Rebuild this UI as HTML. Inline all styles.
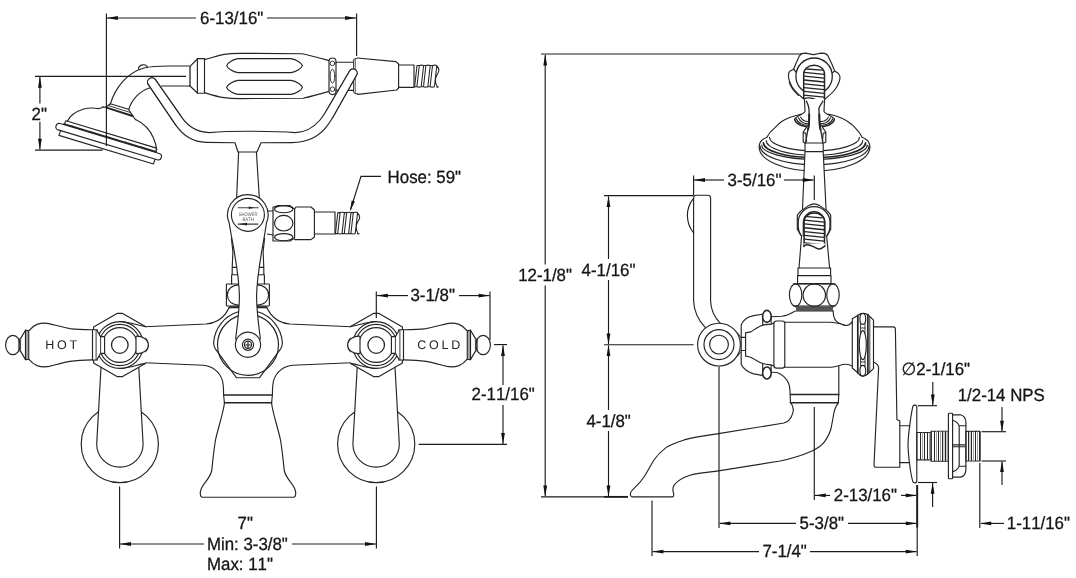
<!DOCTYPE html>
<html lang="en">
<head>
<meta charset="utf-8">
<title>Faucet dimension drawing</title>
<style>
html,body{margin:0;padding:0;background:#fff;}
body{width:1076px;height:578px;overflow:hidden;}
svg{display:block;position:absolute;left:0;top:0;will-change:transform;opacity:0.999;}
.o path,.o line,.o circle,.o ellipse,.o rect,.o polyline,.o polygon{fill:none;stroke:#242424;stroke-width:1.15;stroke-linecap:round;stroke-linejoin:round;}
.o .w{fill:#fff;}
.o .t{stroke-width:1.9;}
.o .h{stroke-width:0.9;}
.dl{stroke:#1c1c1c;stroke-width:1.15;fill:none;}
.ah{fill:#111;stroke:none;}
text{text-rendering:geometricPrecision;font-family:"Liberation Sans","DejaVu Sans",sans-serif;font-size:17.7px;fill:#151515;font-kerning:none;stroke:#151515;stroke-width:0.3px;}
.lbl{font-size:12.5px;letter-spacing:2.75px;fill:#222;stroke:none;}
.tiny{font-size:5px;fill:#5a5a5a;letter-spacing:0;stroke:none;}
</style>
</head>
<body>
<svg width="1076" height="578" viewBox="0 0 1076 578">
<rect x="0" y="0" width="1076" height="578" fill="#fff"/>
<g class="o">
<g transform="translate(59.2,126.7) rotate(16.8)"><path d="M4,-3.3 L4.8,-7.6 L99.3,-7.6 L100,-3.3"/><line class="t" x1="4" y1="-3.9" x2="100" y2="-3.9" stroke-dasharray="2.6 0.7"/><path d="M2.6,3.3 L2.2,8.4 L101,8.4 L101.2,3.3"/><rect class="w" x="-3.3" y="-3.3" width="110" height="6.6" rx="3.3"/></g>
<path d="M67.5,120.9 C70,116 76,111.5 83,109.3 C89,107.5 95,108 98,108.6 L101.2,108 L102.5,106.9 L105.8,107.3"/>
<path d="M135.6,119.6 C143,123 150,130 153.5,138 C155.5,143 156.5,147 156.8,149.5"/>
<path d="M105.8,107.3 L110.3,103.8 L128.5,109.3 L133,116.4 L135,119 L135.6,119.6"/>
<path class="t" d="M106.5,107.6 L132.6,116"/>
<path class="h" d="M108.4,105.6 L130.6,112.6"/>
<path d="M110.4,103.9 C115,89 126,73 144,68 C152,66 160,66 168,66 L189,66"/>
<path d="M128.9,109 C132,99 140,91 149.5,88"/>
<path d="M161.5,86 L190,86"/>
<path d="M138.4,69 C139,64 146,63.4 147.6,67.4"/>
<path class="w" d="M148.4,84.6 L176,125.4 C182,134 192,142 206,142.4 L235,142.7 L238,152 L257,152 L261,142.7 L292,142.6 C306,142.4 318,137.4 326,127.4 C328.6,124 331,120.6 333,117 L356.6,75 A4,4 0 0 0 349.6,71 L325.6,112 C324,114.6 322,117.6 320,120 C314,127 306,132.4 295.4,132.6 C280,131.4 265,131.2 248,131.2 C232,131.2 220,131.6 209.3,132.6 C196,132 187,125 181.6,117.1 L155.4,79.6 A4,4 0 0 0 148.4,84.6 Z"/>
<path d="M238.6,152 L236.6,199"/>
<path d="M256.4,152 L259.4,199"/>
<path d="M190,66.4 L197.4,59 M190,86 L197.4,93"/>
<path class="t" d="M190,66.4 L190,86" style="stroke-width:1.3"/>
<rect x="197.4" y="58.6" width="7.1" height="34.6"/>
<path d="M204.5,59.6 C212,57.6 219,55.4 224,54.4 C230,53.4 236,53.3 240,53.3 L302,53.8 C311,55.6 321,58.4 329,60.6"/>
<path d="M204.5,92.6 C212,95 219,97 224,97.6 C230,98.5 236,98.6 240,98.6 L303,98.2 C312,96.4 321,93.8 329,91.4"/>
<path d="M238,58.6 C232.6,59.4 227.4,63 226.6,65.6 C227.4,68.2 232.6,71.8 238,72.6 L291,72.6 C296.4,71.8 301.6,68.2 302.4,65.6 C301.6,63 296.4,59.4 291,58.6 Z"/>
<path d="M238,80.4 C232.6,81.2 227.4,84.8 226.6,87.4 C227.4,90 232.6,93.6 238,94.4 L291,94.4 C296.4,93.6 301.6,90 302.4,87.4 C301.6,84.8 296.4,81.2 291,80.4 Z"/>
<rect class="w" x="329" y="58" width="7" height="36.6" rx="3.5"/>
<ellipse class="h" cx="332.5" cy="76.2" rx="2.3" ry="7"/>
<circle class="h" cx="332.5" cy="63.4" r="2.3"/><circle class="h" cx="332.5" cy="89.2" r="2.3"/>
<path d="M336,62.2 L353,62.2 M336,90.4 L353,90.4"/>
<path class="h" style="stroke-width:0.85" d="M353.5,60 L354.6,58.8 L356.9,58.4 M353.5,60 L353.5,92 L354.8,93.6 L356.9,94 M355.2,58.8 L355.2,93.6"/>
<path d="M357.2,58 L396,61.6 L398.6,64 L398.6,88 L396.6,90 L358,94.4 L357.2,93.6"/>
<path d="M398.6,65 L414,65 L414,87.4 L398.6,87.4"/>
<path style="stroke-width:1.05" d="M414.6,86.8 L417,65.5 M416.9,86.8 L419.3,65.5 M417,65.5 L419.3,65.5 M414.6,86.8 L416.9,86.8 M419.3,65.5 Q421.45,64.8 423.6,65.5 M416.9,86.8 Q419.05,87.5 421.2,86.8 M421.2,86.8 L423.6,65.5 M423.5,86.8 L425.9,65.5 M423.6,65.5 L425.9,65.5 M421.2,86.8 L423.5,86.8 M425.9,65.5 Q428.05,64.8 430.2,65.5 M423.5,86.8 Q425.65,87.5 427.8,86.8 M427.8,86.8 L430.2,65.5 M430.1,86.8 L432.5,65.5 M430.2,65.5 L432.5,65.5 M427.8,86.8 L430.1,86.8 M432.5,65.5 Q434.65,64.8 436.8,65.5 M430.1,86.8 Q432.25,87.5 434.4,86.8 M434.4,86.8 L436.8,65.5 M436.7,86.8 Q437.5,87.5 438.3,86.8 M436.5,65.5 C438.2,67.1 439.1,68.9 438.9,70.5 C438.4,74 432.4,78.3 437.3,86.8"/>
<path class="w" d="M356.6,75 A4,4 0 0 0 349.6,71 L325.6,112 L333,117 Z" style="stroke:none"/>
<path d="M333,117 L356.6,75 A4,4 0 0 0 349.6,71 L325.6,112"/>
<path class="w" d="M176,125.4 L148.4,84.6 A4,4 0 0 1 155.4,79.6 L181.6,117.1" />
<path d="M231.4,238 L232.9,252 L232.2,267.4 L232.2,274.7 L231.6,274.7 L231.6,284 M232.2,267.4 L239,267.4 M231.6,274.7 L239,274.7"/>
<path d="M264.6,238 L263.1,252 L263.8,267.4 L263.8,274.7 L264.4,274.7 L264.4,284 M263.8,267.4 L257,267.4 M264.4,274.7 L257,274.7"/>
<rect x="226.4" y="284" width="43" height="22" rx="0.8"/>
<path d="M239.4,284.6 C231,285.5 227.4,290 227.4,295 C227.4,300 231,304.6 239.4,305.4"/>
<path d="M256.6,284.6 C265,285.5 268.6,290 268.6,295 C268.6,300 265,304.6 256.6,305.4"/>
<path class="t" d="M229.4,307.3 L239,307.3 M257,307.3 L266.6,307.3"/>
<path d="M238.4,311.8 A34.4,34.4 0 0 0 213.7,342 C213.5,344.6 214.2,347 215.2,348.6 L236.4,377.7 L259.6,377.7 L280.8,348.6 C281.8,347 282.5,344.6 282.3,342 A34.4,34.4 0 0 0 257.6,311.8"/>
<circle cx="248" cy="344.8" r="30.5"/>
<path class="w" d="M235.6,339 C237,328 239.6,310 239.4,295 C238.6,268 232,242 229.2,223 A20.3,20.3 0 1 1 266.4,223 C264,242 257.4,268 256.6,295 C256.4,310 259,328 260.4,339"/>
<circle class="w" cx="248" cy="344.8" r="12.6"/>
<circle cx="248" cy="344.8" r="5.6"/><circle cx="248" cy="344.8" r="3.6"/>
<path class="t" style="stroke-width:1.2" d="M245.6,345 L250.4,345 M248,342.6 L248,347.4"/>
<circle cx="247.9" cy="214.8" r="16.5"/>
<path style="stroke-width:1.1;stroke:#3a3a3a" d="M238.2,207.7 L258,207.7 M238.2,224.1 L258,224.1"/>
<polygon points="254.4,207.7 248.8,206.4 248.8,209" style="fill:#222;stroke:none"/>
<polygon points="239,224.1 247,222.8 247,225.4" style="fill:#222;stroke:none"/>
<path d="M268,211 L273,211 M267.4,234 L273,235"/>
<path d="M273,241 L273,207.4 L274.4,206.8 L278,205.6 L290,205.6 L294.6,209 L294.6,238 L290,241 L277,241 Z"/>
<ellipse cx="283.7" cy="209.2" rx="9.2" ry="3.6"/><ellipse cx="283.7" cy="223.2" rx="9.2" ry="7.8"/><ellipse cx="283.7" cy="237.2" rx="9.2" ry="3.6"/>
<path d="M294.6,209 L296,207 L311,207 L314.4,210 L314.4,237 L311,239.6 L294.6,239.6"/>
<path d="M314.4,212 L335,212 L335,234 L314.4,234"/>
<path style="stroke-width:1.05" d="M335.4,233.6 L337.8,212.6 M337.7,233.6 L340.1,212.6 M337.8,212.6 L340.1,212.6 M335.4,233.6 L337.7,233.6 M340.1,212.6 Q342.25,211.9 344.4,212.6 M337.7,233.6 Q339.85,234.3 342,233.6 M342,233.6 L344.4,212.6 M344.3,233.6 L346.7,212.6 M344.4,212.6 L346.7,212.6 M342,233.6 L344.3,233.6 M346.7,212.6 Q348.85,211.9 351,212.6 M344.3,233.6 Q346.45,234.3 348.6,233.6 M348.6,233.6 L351,212.6 M350.9,233.6 L353.3,212.6 M351,212.6 L353.3,212.6 M348.6,233.6 L350.9,233.6 M353.3,212.6 Q355.45,211.9 357.6,212.6 M350.9,233.6 Q353.05,234.3 355.2,233.6 M355.2,233.6 L357.6,212.6 M357.5,233.6 Q358.3,234.3 359.1,233.6 M357.3,212.6 C359,214.2 359.9,216 359.7,217.6 C359.2,221.1 353.2,225.1 358.1,233.6"/>
<g><path d="M145,326.8 L206,324 C214,323.4 221,320 225.6,313.6 L229.4,307.4"/><path d="M144.6,362.8 L203.3,365.3 C212,366 220,371.6 222.5,380.8 C223.2,384 223.5,387 223.5,390 L223.6,395 L224.4,402.8"/><path d="M140.4,335.8 C145,336.6 148.2,340 148.2,345 C148.2,350 145,353.6 140.4,354.2"/><circle cx="119.8" cy="444" r="38.6"/><path class="w" d="M101,367.4 L96.7,444 A23.2,23.2 0 0 0 143.1,444 L138.8,367.4"/><path class="w" d="M145.4,363.4 L122.6,376.6 L117,376.6 L93.6,363 L93.6,327 L117,313.4 L122.6,313.4 L145.4,326.6"/><circle cx="119.8" cy="345" r="23.4"/><circle cx="119.8" cy="345" r="20.6"/><circle cx="119.8" cy="345" r="17.4"/><circle class="t" style="stroke-width:1.3" cx="119.8" cy="345" r="8.3"/><path d="M145.4,326.6 C138,325.4 130,322.2 120.8,321.5 M145.4,363.4 C138,364.6 130,367.8 120.8,368.5"/><path class="w" d="M136,336.2 C142.6,336 148.3,339.4 148.3,345 C148.3,350.6 142.6,354 136,353.6 Z"/><path class="w" d="M92.5,329.7 L97.3,329.7 L97.3,331 L100.6,336.6 L104.6,336.6 L104.6,353.4 L100.6,353.4 L97.3,359 L97.3,360 L92.5,360 Z"/><path class="h" d="M96.1,329.7 L96.1,360 M100.6,336.6 L100.6,353.4"/><path d="M28.7,330.8 C31,328 34,325.6 37,324.4 C41,323 45,322.8 49,323.6 C55,325 62,327 70,328.6 C78,329.6 86,329.7 92.5,329.8"/><path d="M28.7,359.2 C31,362 34,364.4 37,365.6 C41,367 45,367.2 49,366.4 C55,365 62,363 70,361.4 C78,360.2 86,360 92.5,359.9"/><path d="M25.5,330.2 L25.5,359.6 M28.7,330.6 L28.7,359.2 M25.5,330.2 L28.7,330.6 M25.5,359.6 L28.7,359.2"/><line class="h" style="stroke-width:0.8" x1="27" y1="330.4" x2="27" y2="359.4"/><path d="M20.4,338.9 L25.5,330.2 M20.4,350.9 L25.5,359.6"/><rect x="18.8" y="338.9" width="1.8" height="12" style="fill:#777;stroke:#444;stroke-width:0.8"/><ellipse cx="12.9" cy="345" rx="7.3" ry="9.6"/></g>
<g transform="translate(496,0) scale(-1,1)"><path d="M145,326.8 L206,324 C214,323.4 221,320 225.6,313.6 L229.4,307.4"/><path d="M144.6,362.8 L203.3,365.3 C212,366 220,371.6 222.5,380.8 C223.2,384 223.5,387 223.5,390 L223.6,395 L224.4,402.8"/><path d="M140.4,335.8 C145,336.6 148.2,340 148.2,345 C148.2,350 145,353.6 140.4,354.2"/><circle cx="119.8" cy="444" r="38.6"/><path class="w" d="M101,367.4 L96.7,444 A23.2,23.2 0 0 0 143.1,444 L138.8,367.4"/><path class="w" d="M145.4,363.4 L122.6,376.6 L117,376.6 L93.6,363 L93.6,327 L117,313.4 L122.6,313.4 L145.4,326.6"/><circle cx="119.8" cy="345" r="23.4"/><circle cx="119.8" cy="345" r="20.6"/><circle cx="119.8" cy="345" r="17.4"/><circle class="t" style="stroke-width:1.3" cx="119.8" cy="345" r="8.3"/><path d="M145.4,326.6 C138,325.4 130,322.2 120.8,321.5 M145.4,363.4 C138,364.6 130,367.8 120.8,368.5"/><path class="w" d="M136,336.2 C142.6,336 148.3,339.4 148.3,345 C148.3,350.6 142.6,354 136,353.6 Z"/><path class="w" d="M92.5,329.7 L97.3,329.7 L97.3,331 L100.6,336.6 L104.6,336.6 L104.6,353.4 L100.6,353.4 L97.3,359 L97.3,360 L92.5,360 Z"/><path class="h" d="M96.1,329.7 L96.1,360 M100.6,336.6 L100.6,353.4"/><path d="M28.7,330.8 C31,328 34,325.6 37,324.4 C41,323 45,322.8 49,323.6 C55,325 62,327 70,328.6 C78,329.6 86,329.7 92.5,329.8"/><path d="M28.7,359.2 C31,362 34,364.4 37,365.6 C41,367 45,367.2 49,366.4 C55,365 62,363 70,361.4 C78,360.2 86,360 92.5,359.9"/><path d="M25.5,330.2 L25.5,359.6 M28.7,330.6 L28.7,359.2 M25.5,330.2 L28.7,330.6 M25.5,359.6 L28.7,359.2"/><line class="h" style="stroke-width:0.8" x1="27" y1="330.4" x2="27" y2="359.4"/><path d="M20.4,338.9 L25.5,330.2 M20.4,350.9 L25.5,359.6"/><rect x="18.8" y="338.9" width="1.8" height="12" style="fill:#777;stroke:#444;stroke-width:0.8"/><ellipse cx="12.9" cy="345" rx="7.3" ry="9.6"/></g>
<path d="M224.5,402.8 C223.4,413 218,428 215.5,440 C213,455 212.6,465 211.6,471 C210,478 204,483 201.6,488 C200.2,491 200.3,495 201,496.4 L202.2,497.2 L293.8,497.2 L295,496.4 C295.7,495 295.8,491 294.4,488 C292,483 286,478 284.4,471 C283.4,465 283,455 280.5,440 C278,428 272.6,413 271.5,402.8"/>
<path style="stroke-width:1.5" d="M223.6,395.1 L272.4,395.1 M224.4,402.8 L271.6,402.8"/>
<path d="M766.7,137.5 C769,133 772,130 775,127.6 C777,125.4 779,123.2 781.7,121.4 C784,120 787,118.6 789.6,117.5 C792,116.5 795,115.8 797.5,115.2 L801.4,114.1"/>
<path d="M862.3,137.5 C860,133 857.4,130 855,127.6 C853.6,126 852.6,125 851.5,124.2 C848.6,122 845.6,120 842.5,118.6 C839.6,117.2 836.4,116 833.5,115.2 L827.9,114.1"/>
<path d="M766.7,137.5 C765,138 763.8,138.6 762.8,139.5 C761.4,140.6 760.4,141.6 760,142.8 C759.4,144.2 759.2,145.8 759.2,147.3 M862.3,137.5 C864,138 865.2,138.6 866.2,139.5 C867.6,140.6 868.6,141.6 869,142.8 C869.6,144.2 869.8,145.8 869.8,147.3"/>
<path   d="M759.2,147.3 A55.3,23.6 0 0 0 869.8,147.3"/>
<path   d="M760.1,146 A54.4,18.7 0 0 0 868.9,146"/>
<path   d="M761.7,145 A52.8,14.3 0 0 0 867.3,145"/>
<path  style="stroke-width:1.7" d="M763.4,142.8 A51.1,14.8 0 0 0 865.6,142.8"/>
<path   d="M766.2,140.6 A48.3,14.65 0 0 0 862.8,140.6"/>
<path   d="M769.5,137.3 A45,13.5 0 0 0 859.5,137.3"/>
<path style="stroke-width:1.5" d="M794.6,119.2 C795,121.6 797,123.6 800.6,125.3 C803,126.2 806,126.7 809.4,126.9"/>
<path style="stroke-width:1.5" d="M834.4,119.2 C834,121.6 832,123.6 828.4,125.3 C826,126.2 823,126.7 819.6,126.9"/>
<path style="stroke-width:1.2" d="M796.3,118.8 C796.8,120.6 798.6,122.6 801.5,124 C803.6,124.8 806,125.2 809.4,125.4"/>
<path style="stroke-width:1.2" d="M832.7,118.8 C832.2,120.6 830.4,122.6 827.5,124 C825.4,124.8 823,125.2 819.6,125.4"/>
<path style="stroke-width:1.2" d="M798.5,117.9 C799,119.4 800.6,121.4 803.2,122.7 C805,123.3 807,123.6 809.4,123.8"/>
<path style="stroke-width:1.2" d="M830.5,117.9 C830,119.4 828.4,121.4 825.8,122.7 C824,123.3 822,123.6 819.6,123.8"/>
<path style="stroke-width:1.1" d="M800.6,117.1 C801,118.4 802.6,120 805,121 C806.4,121.5 808,121.8 809.4,121.9"/>
<path style="stroke-width:1.1" d="M828.4,117.1 C828,118.4 826.4,120 824,121 C822.6,121.5 821,121.8 819.6,121.9"/>
<path d="M801.4,53.8 C803,53.2 804.4,53.1 805.4,53.1 C808,53.2 811,54.6 813.2,54.6 C816,54.6 819,53.2 821.1,53.1 L824.5,53.4 C826,54 827.2,54.8 827.9,55.7 L832.4,65.2 L834.6,70.9 L838,73.1 C839.4,74.4 840,76 840,77.6 C840,79.6 839.4,81.6 838.6,83.2 C837.6,85.6 836.2,88 834.6,90 C833,92 831,94 829,95.6 L824.5,99.6"/>
<path d="M801.4,53.8 L799.2,56.2 L795.2,65.2 L793.6,69.2 L790.2,70.9 C789.2,72 788.6,73 788.5,74.2 C788.3,76 788.6,78 789.1,79.8 C789.8,82 790.8,84.6 791.9,86.6 C793.4,89 795.4,91.4 797.5,93.4 L803.7,99"/>
<path d="M793.6,69.2 L796.4,72.6 M834.6,70.9 L832,73.4 M789.2,82 C790,85.6 793,90.4 798.4,95.4"/>
<circle style="stroke-width:1.3" cx="814.1" cy="76.2" r="18.2"/>
<path class="w" style="stroke-width:1.5" d="M803.7,98.6 L803.7,74.04 A10.4,8.84 0 0 1 824.5,74.04 L824.5,98.6"/><path class="h" style="stroke-width:1.3" d="M806.7,69 L822.1,70.1 M804.1,72.4 L824.1,74.4 M804.1,76.2 L824.1,78.2 M804.1,80 L824.1,82 M804.1,83.8 L824.1,85.8 M804.1,87.6 L824.1,89.6 M804.1,91.4 L824.1,93.4 M804.1,95.2 L824.1,97.2 "/>
<path class="w" d="M803.7,98.6 C807,97.4 810,97.6 813.4,98.6 C816,99.6 818,101.4 820,101.2 C822,100.8 823.4,99.4 824.5,98.8 L824.5,103 L803.7,103 Z" style="stroke:none"/>
<path d="M803.7,98.6 C807,97.4 810,97.6 813.4,98.6 C816,99.6 818,101.4 820,101.2 C822,100.8 823.4,99.4 824.5,98.8"/>
<path class="w" style="stroke:none" d="M804.5,99 L804.8,111.9 L808.9,112.4 L809.3,116.6 L808.9,125.3 L806.4,127.4 L803.2,132.2 L803.2,142 L805,143 L805,151.8 L802,216 L826.6,216 L823.2,151.8 L823.2,143 L825.8,142 L825.8,132.2 L822.6,127.4 L819.7,125.3 L819.2,116.6 L818.8,112.4 L824.3,111.9 L824.5,99 Z"/>
<path d="M804.5,99.5 L805,111.5 C804,113 801,114.8 798,116.2 C796.6,117 795.2,118.2 794.6,119.2"/>
<path d="M824.5,99.5 L824,111.5 C825,113 828,114.8 831,116.2 C832.4,117 833.8,118.2 834.4,119.2"/>
<path d="M806.4,127.4 L803.2,132.2 L803.2,142 L805,143 M803.4,132.6 L805.8,133.2 L806.6,141.4"/>
<path d="M822.6,127.4 L825.8,132.2 L825.8,142 L824,143 M825.6,132.6 L823.2,133.2 L822.4,141.4"/>
<path style="stroke-width:1.3" d="M806.5,101.2 C807.6,104 808.6,106 808.9,108.5 L809.3,116.6 L808.9,125.3 C808.4,128 807.6,131 807.1,133.9 L805.8,141.3 L805.6,143"/>
<path style="stroke-width:1.3" d="M822.8,101.2 C821.4,104 819.6,106 818.9,108.5 L819.2,116.6 L819.7,125.3 C820.2,128 821,131 821.4,133.9 L822.7,141.3 L822.9,143"/>
<path style="stroke-width:2" d="M809.2,114.5 L808.9,125.3 L808,129.6 M819.3,114.5 L819.7,125.3 L820.5,129.6"/>
<path d="M805,143 L823.2,143 M805,151.6 L823.2,151.6 M805,143 L805,151.6 L802.2,216 M823.2,143 L823.2,151.6 L826.4,216"/>
<path class="w" style="stroke:none" d="M802.2,210 L799,268 L829.6,268 L826,210 Z"/>
<path d="M801.6,235.5 L799,268 M826.6,235.5 L829.6,268"/>
<path class="w" d="M800.6,235 L797.3,229.3 L797.3,215.2 L800.6,211.1 L808.9,205.4 C811,204.2 812.6,203.8 814.1,203.8 C815.6,203.8 817.2,204.2 819.3,205.4 L827.6,211.1 L830.7,215.2 L830.7,229.3 L827.6,235"/>
<path d="M801,235.4 C799,232 798.2,230 798.2,227 L798.2,222.5 A15.9,15.9 0 0 1 830,222.5 L830,227 C830,230 829.2,232 827.2,235.4" style="stroke-width:1.25"/>
<path d="M803.3,236 L803.3,222.5 A10.8,10.8 0 0 1 824.9,222.5 L824.9,236" style="stroke-width:1.2"/>
<path class="w" style="stroke-width:1.5" d="M804.1,246.4 L804.1,221.57 A10.2,8.67 0 0 1 824.5,221.57 L824.5,246.4"/><path class="h" style="stroke-width:1.3" d="M807.1,216.7 L822.1,217.8 M804.5,220.113 L824.1,222.113 M804.5,223.925 L824.1,225.925 M804.5,227.738 L824.1,229.738 M804.5,231.55 L824.1,233.55 M804.5,235.363 L824.1,237.363 M804.5,239.175 L824.1,241.175 M804.5,242.988 L824.1,244.988 "/>
<path class="w" d="M803.8,245.9 C805,245.2 806,244.8 806.8,244.8 C809,244.8 811.6,245.8 814,246.9 C816,247.9 817.6,249 819.3,249 C821.4,249 823.4,247 824.9,245.9 L824.9,243.6 L803.8,243.6 Z" style="stroke:none"/>
<path style="stroke-width:1.4" d="M803.8,245.9 C805,245.2 806,244.8 806.8,244.8 C809,244.8 811.6,245.8 814,246.9 C816,247.9 817.6,249 819.3,249 C821.4,249 823.4,247 824.9,245.9"/>
<path d="M798,268 L798,275.6 L830.6,275.6 L830.6,268 Z M797.6,275.6 L797.6,283.6 L831,283.6 L831,275.6"/>
<path d="M793.6,283.8 L835,283.8 M793.6,306 L835,306"/>
<ellipse cx="795.6" cy="295" rx="6.2" ry="11.2"/><circle cx="814.3" cy="295.2" r="11.2"/><ellipse cx="833" cy="295" rx="6.2" ry="11.2"/>
<path class="t" style="stroke-width:3.6;stroke-linecap:butt;stroke:#555" d="M796,309 L833,309"/>
<path d="M795.8,307 L833.2,307 M795.8,311 L833.2,311"/>
<path d="M741.2,324.9 C742.6,322 744,320 745.9,318.7 C748,317 751,316.2 753.7,315.6 L762.2,314.3 M741.2,364.5 C742.6,367 744,368.8 745.9,370 C748,371.6 751,373 753.7,373.9 L762.2,375.4 M741.2,324.9 L741.2,364.5"/>
<path d="M745.6,332.7 C747.4,332.6 749,332.4 750.6,331.9 C752.6,331 754.6,329.4 756.8,328 C759,326.6 761.4,325.4 763.8,324.9 C766,324.4 769,324.4 771.5,324.1 L773.9,323 M745.6,356 C747.4,356.4 749,356.8 750.6,357.2 C752.6,358 754.6,359.4 756.8,360.7 C759,362 761.4,363.2 763.8,363.8 C766,364.4 769,364.6 771.5,365 L773.9,366.1"/>
<path d="M741.2,337.3 L745.6,337.3 M741.2,350.5 L745.6,350.5 M745.6,332.7 L745.6,356"/>
<path class="h" d="M737.8,333 L740.6,337.3 M737.8,356.2 L740.6,351.9"/>
<path d="M762.7,317 L762.7,325.2 M771.1,317 L771.1,324.2 M762.7,372.4 L762.7,364 M771.1,372.4 L771.1,365"/>
<ellipse class="w" style="stroke-width:1.6" cx="766.9" cy="316.4" rx="4.3" ry="6"/><ellipse class="w" style="stroke-width:1.6" cx="766.9" cy="373" rx="4.3" ry="6"/>
<rect x="773.9" y="321" width="10.9" height="47.1" rx="2.6"/>
<path d="M784.8,322.2 L830,322.2 C833,322.2 836,322.6 840.5,323.8 C843,324.7 844.6,325.5 846.4,325.5 C848.6,325.4 850.6,324 852.3,321.6"/>
<path d="M784.8,367.2 L831,367.2 C834,367 837,366.2 839.3,365.5 C842,364.6 844,364.2 845.5,364.2 C848,364.2 850.4,364.8 852.3,366.4"/>
<path d="M771.3,316.8 L781.7,316.3 C784,316 786,315.6 787.9,314.8 C790,313.8 792,312.4 794.9,311.2 M833.2,311 C833.2,315 834,319 836.4,321.4 C837.6,322.4 839,323.2 840.5,323.8"/>
<path class="w" d="M852.3,318.8 L857.8,315.4 C859.4,314 861,313.3 862.7,313.3 C864.6,313.3 866.4,313.8 867.9,314.7 L873.5,320.2 L873.5,368.6 L868.2,373.5 C866.6,375.2 864.6,376.2 862.7,376.2 C861,376.2 859.4,375 857.8,372.8 L852.3,368 Z"/>
<path style="stroke-width:1.7" d="M857.8,315.4 L857.8,372.8 M867.9,314.7 L867.9,373.5"/>
<path class="h" d="M869.8,316.6 L869.8,371.8"/>
<ellipse cx="862.8" cy="318.9" rx="2.9" ry="5.4"/><ellipse cx="862.8" cy="345.1" rx="3.5" ry="14.5"/><ellipse cx="862.8" cy="370.7" rx="2.9" ry="5.4"/>
<path class="h" d="M860.6,324 L860.6,333 M865,324 L865,333 M860.6,357 L860.6,366 M865,357 L865,366 M860.6,328 L865,328 M860.6,362 L865,362"/>
<path d="M873.5,326.9 L893.1,326.9 C894.6,327 895.4,328 895.4,329.4 L896.9,419.5 L899.8,421 L899.8,467.2 L876.4,467.2 C874.6,467.4 874,466.6 874,465 L878.6,368 C878.6,365.6 877.6,364 874.4,362.5 L873.5,362.3"/>
<path d="M771.3,372.3 L776.9,372.5 C780,373.4 782,375 783.9,376.6 C786,378.6 787.6,381 788.7,383.5 C789.6,386 790,389 790.1,391.9 L790.4,402.7 M838.8,366.4 L838.8,394.6 L838.3,402.7"/>
<path style="stroke-width:1.5" d="M790.4,394.6 L838.8,394.6 M790.4,402.7 L838.3,402.7"/>
<path d="M790.8,402.9 C792,404.6 792.9,406 792.9,407.8 C793.6,409.4 793.4,411 792.9,412.6 C792,416 791,418 789.4,419.6 C788,421.4 786,422.6 783.9,423 L720,433.4 C705,436 694,437 686,439.4 C678,442 671,444 666,447.6 C660,452 657,455.6 654,460 C650,466 648,471 644,477 C641,481.6 637,485.6 634,488.4 C631.6,490.6 630.4,492 630.4,494 C630.4,495.6 630.8,496.6 631.6,496.8 L673,496.8 C674,496 673.8,494 673.4,492.6 C672.6,490 672.4,488 674,485.4 C677,481 683,477.4 690,475.2 C698,473.2 708,472.4 720,470.6 L780,461 C792,458.6 803,455 812,451 C818,448 822,445.4 824.6,441.6 C828,436.6 829.8,433 830.9,429 C832,424 832.8,419 833.7,414 C834.4,410.6 835.2,408 835.8,407.1 C836.6,405.4 837.6,404 838.3,402.9"/>
<path d="M693.6,301 L693.6,198 C693.6,196 694.6,195.2 696.4,195.2 L707.8,195.2 C709.6,195.2 710.6,196 710.6,198 L710.6,301 C710.8,309 714,317 720.6,323.6 M693.6,301 C694,311 698,320 705.4,327.6"/>
<path d="M693.6,198.4 C689.6,203 687.4,209 687.4,215.6 C687.4,222 689.6,228 693.6,233"/>
<circle class="w" cx="719" cy="344.6" r="21.4"/><circle cx="719" cy="344.6" r="15"/><circle cx="719" cy="344.6" r="9.4"/>
<path d="M899.8,425.7 L909.6,425.7 M899.8,462.6 L909.2,462.6"/>
<path d="M912.9,406.2 C912,410 911,416 910.2,421.8 C909,430 908.2,437 908,445.2 C908.2,453 909,460 910.2,468.5 C911,474 912,479 912.9,481.8 C913.6,483.2 915.8,483.2 916.8,481.8 L916.8,406.2 C915.8,404.8 913.6,404.8 912.9,406.2 Z"/>
<rect x="916.8" y="432.5" width="14.3" height="27.4"/><path style="stroke-width:1;stroke:#262626;stroke-linecap:butt" d="M920.5,432.5 L920.5,459.9 M924.5,432.5 L924.5,459.9 M927.5,432.5 L927.5,459.9 "/><path style="stroke-width:1;stroke:#a0a0a0;stroke-linecap:butt" d="M922.5,432.5 L922.5,459.9 M929.5,432.5 L929.5,459.9 "/>
<rect x="931.1" y="431.2" width="17.3" height="30"/><path style="stroke-width:1;stroke:#262626;stroke-linecap:butt" d="M934.5,431.2 L934.5,461.2 M938.5,431.2 L938.5,461.2 M942.5,431.2 L942.5,461.2 M945.5,431.2 L945.5,461.2 "/><path style="stroke-width:1;stroke:#a0a0a0;stroke-linecap:butt" d="M936.5,431.2 L936.5,461.2 M940.5,431.2 L940.5,461.2 M944,431.2 L944,461.2 M947,431.2 L947,461.2 "/>
<rect x="965.9" y="431.3" width="13.9" height="29.7"/><path style="stroke-width:1;stroke:#262626;stroke-linecap:butt" d="M968.5,431.3 L968.5,461 M971.5,431.3 L971.5,461 M975.5,431.3 L975.5,461 "/><path style="stroke-width:1;stroke:#a0a0a0;stroke-linecap:butt" d="M970,431.3 L970,461 M973.5,431.3 L973.5,461 M977.5,431.3 L977.5,461 "/>
<path class="t" style="stroke-width:1.5" d="M979.8,432 L979.8,460.4"/>
<rect class="w" x="948.4" y="413.2" width="4.2" height="65.5" rx="0.8"/>
<path d="M952.6,414.8 L960.4,414.8 C962,415.2 963.4,416 964.3,417.1 C965.2,418.4 965.8,420 965.9,421.8 L965.9,470.1 C965.8,472 965.2,473.6 964.3,474.8 C963.4,476 962,476.8 960.4,477.1 L952.6,477.1"/>
<path d="M952.6,420.2 C955,420.8 957,422 958.2,424 C958.9,425 959.2,426 959.2,427 L959.2,465 C959.2,466 958.9,467 958.2,468 C957,470 955,471 952.6,471.6 M959.2,425.7 L965.9,425.7 M959.2,466.2 L965.9,466.2"/>
<path d="M952.6,444.9 L964.6,444.9 M952.6,446.7 L964.6,446.7"/>
</g>
<g class="d">
<line class="dl" x1="106.40" y1="13.40" x2="106.40" y2="146.00"/>
<line class="dl" x1="356.60" y1="13.60" x2="356.60" y2="56.00"/>
<line class="dl" x1="107.00" y1="18.00" x2="196.00" y2="18.00"/>
<polygon class="ah" points="106.90,18.00 117.90,16.10 117.90,19.90"/>
<line class="dl" x1="267.00" y1="18.00" x2="356.00" y2="18.00"/>
<polygon class="ah" points="356.10,18.00 345.10,19.90 345.10,16.10"/>
<line class="dl" x1="35.00" y1="76.30" x2="186.00" y2="76.30"/>
<line class="dl" x1="35.00" y1="150.10" x2="102.80" y2="150.10"/>
<line class="dl" x1="39.90" y1="77.00" x2="39.90" y2="103.60"/>
<polygon class="ah" points="39.90,76.70 41.80,87.70 38.00,87.70"/>
<line class="dl" x1="39.90" y1="121.80" x2="39.90" y2="149.60"/>
<polygon class="ah" points="39.90,149.80 38.00,138.80 41.80,138.80"/>
<polyline class="dl" points="381,176.4 361,176.4 350.4,210"/>
<polygon class="ah" points="350.10,211.00 351.65,200.48 354.90,201.51"/>
<line class="dl" x1="376.30" y1="291.60" x2="376.30" y2="318.00"/>
<line class="dl" x1="490.00" y1="291.60" x2="490.00" y2="340.00"/>
<line class="dl" x1="377.00" y1="295.60" x2="408.00" y2="295.60"/>
<polygon class="ah" points="376.80,295.60 387.80,293.70 387.80,297.50"/>
<line class="dl" x1="459.00" y1="295.60" x2="489.60" y2="295.60"/>
<polygon class="ah" points="489.60,295.60 478.60,297.50 478.60,293.70"/>
<line class="dl" x1="494.00" y1="344.60" x2="507.00" y2="344.60"/>
<line class="dl" x1="418.60" y1="444.40" x2="507.00" y2="444.40"/>
<line class="dl" x1="503.00" y1="345.40" x2="503.00" y2="385.00"/>
<polygon class="ah" points="503.00,345.00 504.90,356.00 501.10,356.00"/>
<line class="dl" x1="503.00" y1="405.00" x2="503.00" y2="444.00"/>
<polygon class="ah" points="503.00,444.10 501.10,433.10 504.90,433.10"/>
<line class="dl" x1="119.60" y1="486.60" x2="119.60" y2="548.60"/>
<line class="dl" x1="376.40" y1="486.60" x2="376.40" y2="548.60"/>
<line class="dl" x1="120.00" y1="544.00" x2="204.00" y2="544.00"/>
<polygon class="ah" points="120.00,544.00 131.00,542.10 131.00,545.90"/>
<line class="dl" x1="292.00" y1="544.00" x2="376.00" y2="544.00"/>
<polygon class="ah" points="376.00,544.00 365.00,545.90 365.00,542.10"/>
<line class="dl" x1="541.00" y1="54.00" x2="802.00" y2="54.00"/>
<line class="dl" x1="541.00" y1="496.80" x2="628.00" y2="496.80"/>
<line class="dl" x1="545.20" y1="55.00" x2="545.20" y2="264.40"/>
<polygon class="ah" points="545.20,54.40 547.10,65.40 543.30,65.40"/>
<line class="dl" x1="545.20" y1="285.60" x2="545.20" y2="496.00"/>
<polygon class="ah" points="545.20,496.50 543.30,485.50 547.10,485.50"/>
<line class="dl" x1="604.00" y1="195.60" x2="693.60" y2="195.60"/>
<line class="dl" x1="604.00" y1="344.70" x2="693.60" y2="344.70"/>
<line class="dl" x1="608.50" y1="196.40" x2="608.50" y2="259.00"/>
<polygon class="ah" points="608.50,196.00 610.40,207.00 606.60,207.00"/>
<line class="dl" x1="608.50" y1="280.00" x2="608.50" y2="344.00"/>
<polygon class="ah" points="608.50,344.40 606.60,333.40 610.40,333.40"/>
<line class="dl" x1="608.50" y1="345.40" x2="608.50" y2="410.00"/>
<polygon class="ah" points="608.50,345.00 610.40,356.00 606.60,356.00"/>
<line class="dl" x1="608.50" y1="431.00" x2="608.50" y2="496.00"/>
<polygon class="ah" points="608.50,496.50 606.60,485.50 610.40,485.50"/>
<line class="dl" x1="693.60" y1="175.60" x2="693.60" y2="195.20"/>
<line class="dl" x1="814.30" y1="175.60" x2="814.30" y2="200.00"/>
<line class="dl" x1="694.00" y1="180.00" x2="724.00" y2="180.00"/>
<polygon class="ah" points="694.00,180.00 705.00,178.10 705.00,181.90"/>
<line class="dl" x1="784.00" y1="180.00" x2="813.60" y2="180.00"/>
<polygon class="ah" points="813.80,180.00 802.80,181.90 802.80,178.10"/>
<line class="dl" x1="719.00" y1="366.40" x2="719.00" y2="528.00"/>
<line class="dl" x1="917.20" y1="485.00" x2="917.20" y2="556.00"/>
<line class="dl" x1="719.60" y1="523.40" x2="796.00" y2="523.40"/>
<polygon class="ah" points="719.40,523.40 730.40,521.50 730.40,525.30"/>
<line class="dl" x1="848.00" y1="523.40" x2="916.60" y2="523.40"/>
<polygon class="ah" points="916.80,523.40 905.80,525.30 905.80,521.50"/>
<line class="dl" x1="652.00" y1="500.60" x2="652.00" y2="556.00"/>
<line class="dl" x1="652.60" y1="551.60" x2="759.00" y2="551.60"/>
<polygon class="ah" points="652.40,551.60 663.40,549.70 663.40,553.50"/>
<line class="dl" x1="810.00" y1="551.60" x2="916.60" y2="551.60"/>
<polygon class="ah" points="916.80,551.60 905.80,553.50 905.80,549.70"/>
<line class="dl" x1="814.30" y1="407.00" x2="814.30" y2="500.00"/>
<line class="dl" x1="815.00" y1="495.40" x2="830.00" y2="495.40"/>
<polygon class="ah" points="814.70,495.40 825.70,493.50 825.70,497.30"/>
<line class="dl" x1="901.00" y1="495.40" x2="916.60" y2="495.40"/>
<polygon class="ah" points="916.80,495.40 905.80,497.30 905.80,493.50"/>
<line class="dl" x1="918.00" y1="405.70" x2="937.00" y2="405.70"/>
<line class="dl" x1="918.00" y1="482.50" x2="937.00" y2="482.50"/>
<line class="dl" x1="932.80" y1="382.00" x2="932.80" y2="405.00"/>
<polygon class="ah" points="932.80,405.40 930.90,394.40 934.70,394.40"/>
<line class="dl" x1="932.60" y1="483.00" x2="932.60" y2="507.00"/>
<polygon class="ah" points="932.60,482.80 934.50,493.80 930.70,493.80"/>
<line class="dl" x1="981.60" y1="431.70" x2="1006.00" y2="431.70"/>
<line class="dl" x1="981.60" y1="461.00" x2="1006.00" y2="461.00"/>
<line class="dl" x1="1002.00" y1="407.00" x2="1002.00" y2="431.00"/>
<polygon class="ah" points="1002.00,431.70 1000.10,420.70 1003.90,420.70"/>
<line class="dl" x1="1002.00" y1="461.40" x2="1002.00" y2="485.00"/>
<polygon class="ah" points="1002.00,461.00 1003.90,472.00 1000.10,472.00"/>
<line class="dl" x1="979.80" y1="463.00" x2="979.80" y2="528.00"/>
<line class="dl" x1="981.00" y1="523.40" x2="1004.00" y2="523.40"/>
<polygon class="ah" points="980.20,523.40 991.20,521.50 991.20,525.30"/>
<line class="dl" style="stroke-width:1.9" x1="917.2" y1="485" x2="917.2" y2="527.6"/>
<line class="dl" style="stroke-width:1.7" x1="604" y1="496.8" x2="628" y2="496.8"/>
</g>
<g class="tx">
<text transform="translate(45.20 349.40) scale(1.0000 1)" text-anchor="start" class="lbl">HOT</text>
<text transform="translate(417.20 349.40) scale(1.0000 1)" text-anchor="start" class="lbl">COLD</text>
<text transform="translate(248.20 215.60) scale(0.8400 1)" text-anchor="middle" class="tiny">SHOWER</text>
<text transform="translate(248.20 221.10) scale(0.8600 1)" text-anchor="middle" class="tiny">BATH</text>
<text transform="translate(200.10 23.70) scale(0.9530 1)" text-anchor="start">6-13/16"</text>
<text transform="translate(31.60 119.60) scale(0.9530 1)" text-anchor="start">2"</text>
<text transform="translate(387.60 182.50) scale(0.9530 1)" text-anchor="start">Hose: 59"</text>
<text transform="translate(410.50 301.00) scale(0.9530 1)" text-anchor="start">3-1/8"</text>
<text transform="translate(471.60 400.20) scale(0.9530 1)" text-anchor="start">2-11/16"</text>
<text transform="translate(245.20 529.30) scale(0.9530 1)" text-anchor="middle">7"</text>
<text transform="translate(206.90 549.70) scale(0.9530 1)" text-anchor="start">Min: 3-3/8"</text>
<text transform="translate(207.00 570.10) scale(0.9530 1)" text-anchor="start">Max: 11"</text>
<text transform="translate(518.20 281.10) scale(0.9530 1)" text-anchor="start">12-1/8"</text>
<text transform="translate(581.60 275.70) scale(0.9530 1)" text-anchor="start">4-1/16"</text>
<text transform="translate(586.40 426.70) scale(0.9530 1)" text-anchor="start">4-1/8"</text>
<text transform="translate(727.60 185.70) scale(0.9530 1)" text-anchor="start">3-5/16"</text>
<text transform="translate(799.60 529.10) scale(0.9530 1)" text-anchor="start">5-3/8"</text>
<text transform="translate(762.40 557.20) scale(0.9530 1)" text-anchor="start">7-1/4"</text>
<text transform="translate(833.80 501.10) scale(0.9530 1)" text-anchor="start">2-13/16"</text>
<text transform="translate(901.60 375.10) scale(0.9530 1)" text-anchor="start">∅2-1/16"</text>
<text transform="translate(957.70 400.70) scale(0.9530 1)" text-anchor="start">1/2-14 NPS</text>
<text transform="translate(1006.80 529.10) scale(0.9530 1)" text-anchor="start">1-11/16"</text>
</g>
</svg>
</body>
</html>
